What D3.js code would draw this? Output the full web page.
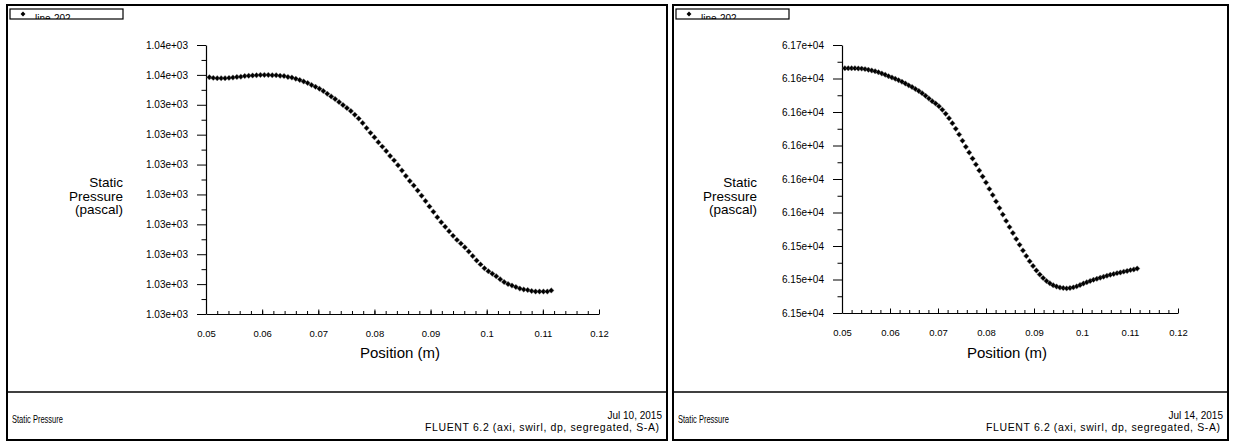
<!DOCTYPE html>
<html><head><meta charset="utf-8">
<script src="https://cdn.jsdelivr.net/npm/d3@7"></script>
<style>
body{margin:0;background:#fff}
svg{display:block}
text{font-family:"Liberation Sans",Arial,Helvetica,sans-serif;fill:#000}
</style>
</head><body>
<svg id="c" width="1233" height="444"></svg>
<script>
// ---------- data ----------
const position = [0.0506,0.0513,0.0520,0.0527,0.0534,0.0541,0.0548,0.0555,0.0562,0.0569,0.0576,0.0583,0.0590,0.0597,0.0604,0.0611,0.0618,0.0625,0.0632,0.0639,0.0646,0.0653,0.0660,0.0667,0.0674,0.0681,0.0688,0.0695,0.0702,0.0709,0.0716,0.0723,0.0730,0.0737,0.0744,0.0751,0.0758,0.0765,0.0772,0.0779,0.0786,0.0793,0.0800,0.0807,0.0814,0.0821,0.0828,0.0835,0.0842,0.0849,0.0856,0.0863,0.0870,0.0877,0.0884,0.0891,0.0898,0.0905,0.0912,0.0919,0.0926,0.0933,0.0940,0.0947,0.0954,0.0961,0.0968,0.0975,0.0982,0.0989,0.0996,0.1003,0.1010,0.1017,0.1024,0.1031,0.1038,0.1045,0.1052,0.1059,0.1066,0.1073,0.1080,0.1087,0.1094,0.1101,0.1108,0.1115];

const pressureJul10 = [1035.042,1035.040,1035.039,1035.039,1035.039,1035.040,1035.041,1035.043,1035.044,1035.046,1035.047,1035.048,1035.049,1035.050,1035.050,1035.050,1035.049,1035.049,1035.047,1035.046,1035.043,1035.041,1035.037,1035.033,1035.028,1035.023,1035.016,1035.010,1035.004,1034.996,1034.987,1034.978,1034.969,1034.959,1034.949,1034.939,1034.929,1034.917,1034.904,1034.889,1034.872,1034.856,1034.841,1034.825,1034.810,1034.795,1034.779,1034.764,1034.748,1034.730,1034.712,1034.695,1034.680,1034.663,1034.646,1034.628,1034.610,1034.592,1034.574,1034.557,1034.542,1034.527,1034.512,1034.498,1034.486,1034.473,1034.459,1034.444,1034.429,1034.416,1034.403,1034.393,1034.385,1034.376,1034.366,1034.357,1034.350,1034.345,1034.340,1034.335,1034.332,1034.330,1034.327,1034.325,1034.325,1034.325,1034.325,1034.329];

const pressureJul14 = [61646.1,61646.1,61646.1,61646.1,61646.0,61645.9,61645.6,61645.2,61644.8,61644.3,61643.7,61643.0,61642.3,61641.4,61640.6,61639.8,61639.0,61638.1,61637.0,61635.9,61634.9,61633.7,61632.5,61631.2,61629.7,61628.1,61626.4,61625.1,61623.4,61621.4,61619.0,61616.3,61613.3,61610.0,61606.6,61602.8,61599.2,61595.8,61592.2,61588.7,61585.1,61581.5,61577.9,61574.1,61570.4,61566.6,61562.7,61558.8,61555.0,61551.3,61547.8,61544.2,61540.7,61537.3,61534.0,61530.9,61528.1,61525.4,61523.0,61520.9,61519.1,61517.7,61516.6,61515.8,61515.2,61514.9,61514.7,61514.9,61515.3,61515.9,61516.7,61517.6,61518.4,61519.1,61519.8,61520.4,61521.1,61521.7,61522.3,61522.8,61523.3,61523.8,61524.2,61524.7,61525.1,61525.6,61526.0,61526.5];

const xTickValues = [0.05,0.06,0.07,0.08,0.09,0.10,0.11,0.12];
const xTickLabels = ["0.05","0.06","0.07","0.08","0.09","0.1","0.11","0.12"];

const yTickValuesJul10 = [1035.15,1035.05,1034.95,1034.85,1034.75,1034.65,1034.55,1034.45,1034.35,1034.25];
const yTickLabelsJul10 = ["1.04e+03","1.04e+03","1.03e+03","1.03e+03","1.03e+03","1.03e+03","1.03e+03","1.03e+03","1.03e+03","1.03e+03"];

const yTickValuesJul14 = [61660,61640,61620,61600,61580,61560,61540,61520,61500];
const yTickLabelsJul14 = ["6.17e+04","6.16e+04","6.16e+04","6.16e+04","6.16e+04","6.16e+04","6.15e+04","6.15e+04","6.15e+04"];

const legendLabel = "line-202";
const yTitleLines = ["Static","Pressure","(pascal)"];
const xTitle = "Position (m)";
const footerTitle = "Static Pressure";
const footerDates = ["Jul 10, 2015","Jul 14, 2015"];
const footerSolver = "FLUENT 6.2 (axi, swirl, dp, segregated, S-A)";

// ---------- layout ----------
const panels = [
  {frame:{x0:7,y0:5,x1:667,y1:440}, divY:392, plot:{l:206,t:45,r:599,b:314},
   titleRight:123, xTitleX:400, values:pressureJul10, yVals:yTickValuesJul10, yLabs:yTickLabelsJul10, date:footerDates[0]},
  {frame:{x0:673,y0:5,x1:1228,y1:440}, divY:392, plot:{l:842,t:45,r:1178,b:313},
   titleRight:757, xTitleX:1007, values:pressureJul14, yVals:yTickValuesJul14, yLabs:yTickLabelsJul14, date:footerDates[1]}
];

const svg = d3.select("#c");
const marker = d3.symbol(d3.symbolSquare, 15)();
const smallMarker = d3.symbol(d3.symbolSquare, 12)();

panels.forEach((p, pi) => {
  const g = svg.append("g");
  const f = p.frame;

  // frame
  g.append("rect").attr("x", f.x0).attr("y", f.y0).attr("width", f.x1 - f.x0).attr("height", f.y1 - f.y0)
    .attr("fill", "#fff").attr("stroke", "#000").attr("stroke-width", 2);
  g.append("line").attr("x1", f.x0).attr("x2", f.x1).attr("y1", p.divY).attr("y2", p.divY)
    .attr("stroke", "#000").attr("stroke-width", 1.5);

  // legend box
  const lx = f.x0 + 3, ly = f.y0 + 4;
  const clipId = "legclip" + pi;
  g.append("clipPath").attr("id", clipId).append("rect")
    .attr("x", lx).attr("y", ly).attr("width", 113).attr("height", 10);
  g.append("rect").attr("x", lx).attr("y", ly).attr("width", 113).attr("height", 10)
    .attr("fill", "#fff").attr("stroke", "#000").attr("stroke-width", 1.2);
  g.append("path").attr("d", smallMarker).attr("transform", `translate(${lx + 13},${ly + 5}) rotate(45)`).attr("fill", "#000");
  g.append("text").attr("clip-path", `url(#${clipId})`).attr("x", lx + 25).attr("y", ly + 13)
    .attr("font-size", 10).text(legendLabel);

  const pl = p.plot;
  const x = d3.scaleLinear().domain([xTickValues[0], xTickValues[xTickValues.length - 1]]).range([pl.l, pl.r]);
  const y = d3.scaleLinear().domain([p.yVals[p.yVals.length - 1], p.yVals[0]]).range([pl.b, pl.t]);

  // y axis major
  const yAx = g.append("g").attr("transform", `translate(${pl.l},0)`)
    .call(d3.axisLeft(y).tickValues(p.yVals).tickFormat((d, i) => p.yLabs[i]).tickSize(9).tickSizeOuter(0).tickPadding(9));
  yAx.selectAll("text").attr("font-size", 10).style("font-family", '"Liberation Sans",Arial,sans-serif');
  yAx.select(".domain").attr("stroke-width", 1.2);
  // y axis minor
  const yMinor = p.yVals.slice(1).map((v, i) => (v + p.yVals[i]) / 2);
  g.append("g").attr("transform", `translate(${pl.l},0)`)
    .call(d3.axisLeft(y).tickValues(yMinor).tickFormat("").tickSize(4.5).tickSizeOuter(0))
    .select(".domain").remove();

  // x axis major (ticks pointing up, labels below)
  const xAx = g.append("g").attr("transform", `translate(0,${pl.b})`)
    .call(d3.axisBottom(x).tickValues(xTickValues).tickFormat((d, i) => xTickLabels[i]).tickSize(-4.5).tickSizeOuter(0).tickPadding(16));
  xAx.selectAll("text").attr("font-size", 9.5).style("font-family", '"Liberation Sans",Arial,sans-serif');
  xAx.select(".domain").attr("stroke-width", 1.2);
  const xMinor = d3.range(0.052, 0.1195, 0.002);
  g.append("g").attr("transform", `translate(0,${pl.b})`)
    .call(d3.axisBottom(x).tickValues(xMinor).tickFormat("").tickSize(-3).tickSizeOuter(0))
    .select(".domain").remove();

  // axis titles
  yTitleLines.forEach((s, i) => {
    g.append("text").attr("text-anchor", "end").attr("font-size", 13.5)
      .attr("x", p.titleRight).attr("y", 187 + i * 13.5).text(s);
  });
  g.append("text").attr("text-anchor", "middle").attr("font-size", 15)
    .attr("x", p.xTitleX).attr("y", 358).text(xTitle);

  // data markers
  g.append("g").selectAll("path").data(position).join("path")
    .attr("d", marker)
    .attr("transform", (d, i) => `translate(${x(d)},${y(p.values[i])}) rotate(45)`)
    .attr("fill", "#000").attr("stroke", "#777").attr("stroke-width", 0.4);

  // footer
  g.append("text").attr("x", f.x0 + 5).attr("y", 423).attr("font-size", 10.5)
    .attr("textLength", 51).attr("lengthAdjust", "spacingAndGlyphs").text(footerTitle);
  g.append("text").attr("x", f.x1 - 5).attr("y", 419).attr("font-size", 10).attr("text-anchor", "end").text(p.date);
  g.append("text").attr("x", f.x1 - 8).attr("y", 431).attr("font-size", 10.5).attr("text-anchor", "end")
    .attr("textLength", 234).attr("lengthAdjust", "spacing").text(footerSolver);
});
</script>
</body></html>
